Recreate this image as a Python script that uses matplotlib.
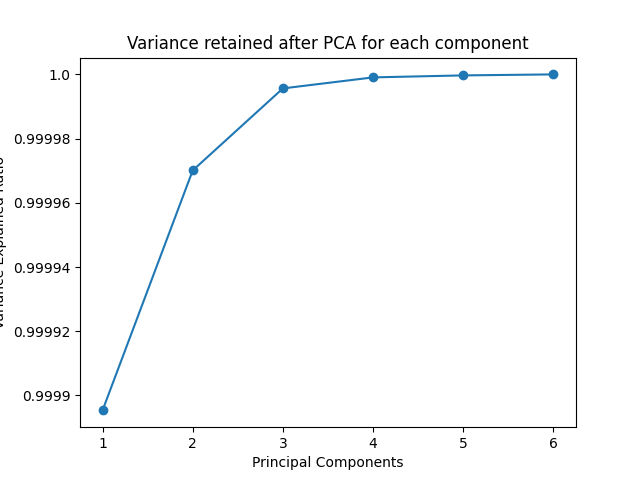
import matplotlib
matplotlib.use("Agg")
import matplotlib.pyplot as plt
from matplotlib.ticker import FuncFormatter

components = [1, 2, 3, 4, 5, 6]
cum_variance = [0.99989533, 0.99997009, 0.99999564, 0.99999907, 0.99999969, 1.0]


def short_fmt(v, pos):
    s = f"{v:.5f}".rstrip("0")
    if s.endswith("."):
        s += "0"
    return s


fig, ax = plt.subplots(figsize=(6.4, 4.8), dpi=100)
ax.plot(components, cum_variance, marker="o")
ax.yaxis.set_major_formatter(FuncFormatter(short_fmt))
ax.set_title("Variance retained after PCA for each component")
ax.set_xlabel("Principal Components")
ax.set_ylabel("Variance Explained Ratio")
fig.savefig("out.png")
